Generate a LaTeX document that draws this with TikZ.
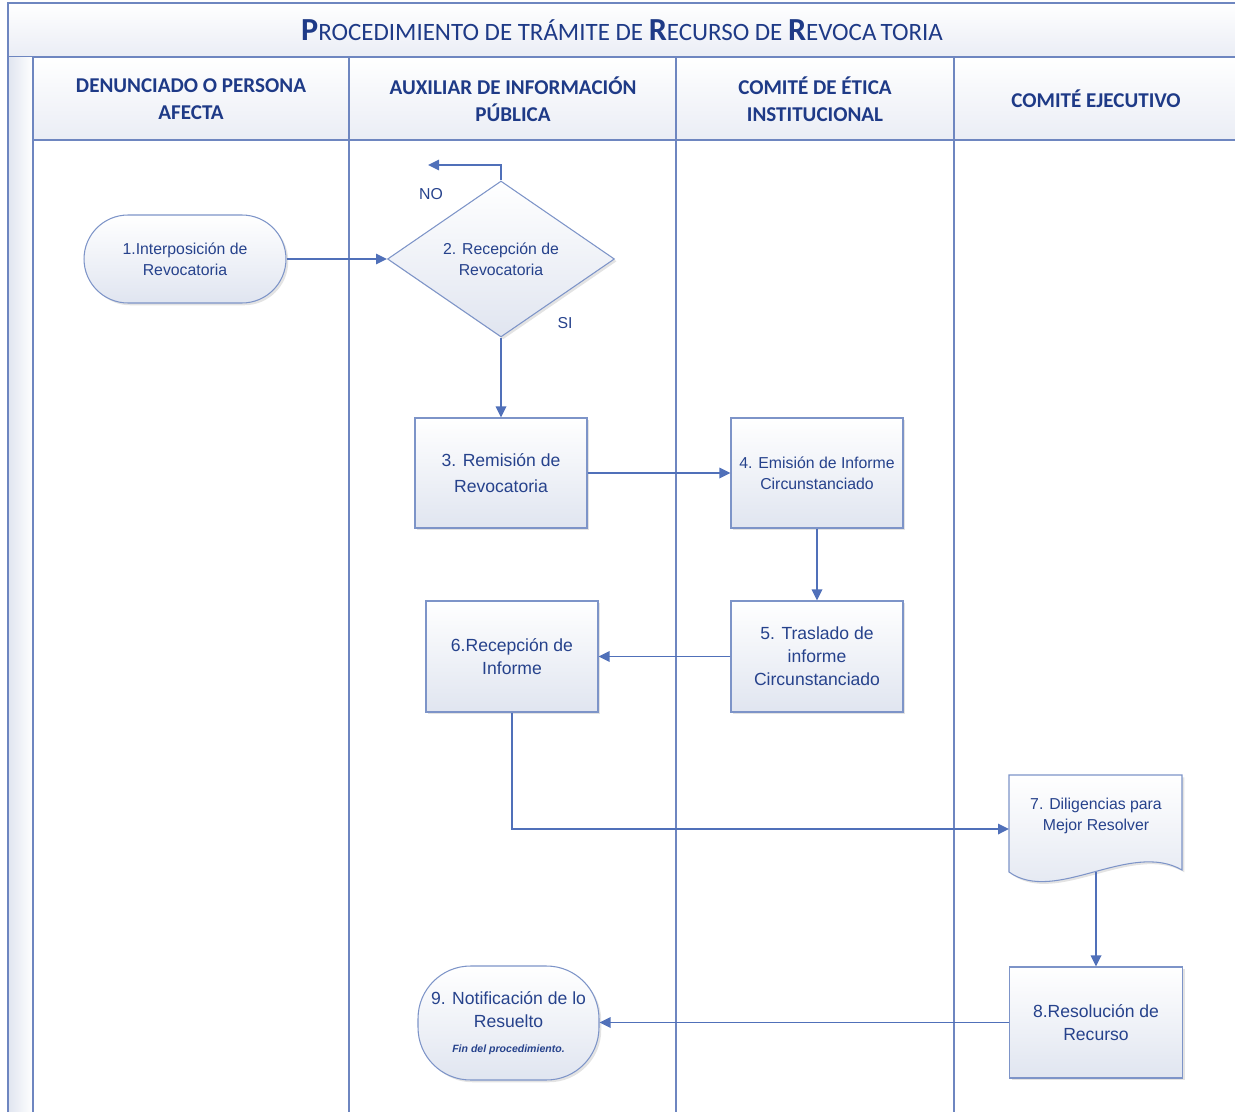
\documentclass[tikz,border=0pt]{standalone}
\usepackage{fontspec}
\setmainfont{Liberation Sans}
\newfontfamily\carlito{Carlito}
\usetikzlibrary{arrows.meta,shapes.geometric,shadows}
\definecolor{lane}{RGB}{110,134,192}
\definecolor{boxline}{RGB}{125,148,200}
\definecolor{conn}{RGB}{80,112,185}
\definecolor{hdr}{RGB}{30,58,135}
\definecolor{ntext}{RGB}{38,66,140}
\definecolor{fillb}{RGB}{224,229,240}
\definecolor{hdrb}{RGB}{234,237,245}
\tikzset{
  shad/.style={drop shadow={shadow xshift=1.3pt, shadow yshift=-1.3pt, opacity=0.22}},
  shape base/.style={draw=boxline, line width=0.6pt, top color=white, bottom color=fillb, text=ntext, align=center, inner sep=1pt, shad},
  procbox/.style={shape base, minimum width=3.44cm, minimum height=2.2cm},
  termbox/.style={shape base},
  decbox/.style={shape base, diamond, aspect=1.455, minimum width=4.54cm, minimum height=3.12cm, inner sep=0pt},
  small/.style={font=\fontsize{9}{12}\selectfont},
  big/.style={font=\fontsize{10}{13}\selectfont},
  hdrtext/.style={text=hdr, align=center, font=\carlito\bfseries\fontsize{12}{15.3}\selectfont},
  lbl/.style={text=ntext, font=\fontsize{9}{11}\selectfont},
  arr/.style={draw=conn, line width=1pt, -{Triangle[length=2.2mm,width=2.1mm]}},
  laneline/.style={draw=lane, line width=0.8pt}
}
\begin{document}
\begin{tikzpicture}[x=0.02cm,y=-0.02cm]
\useasboundingbox (0,0) rectangle (1235,1112);
\clip (0,0) rectangle (1235,1112);
% title band
\path[draw=lane, line width=1.3pt, top color=white, bottom color=hdrb] (8,3) rectangle (1250,57);
\node[text=hdr] (title) at (622,30) {\carlito{\fontsize{18.3}{20}\selectfont\bfseries P}{\fontsize{14.2}{16}\selectfont ROCEDIMIENTO DE TRÁMITE DE }{\fontsize{18.3}{20}\selectfont\bfseries R}{\fontsize{14.2}{16}\selectfont ECURSO DE }{\fontsize{18.3}{20}\selectfont\bfseries R}{\fontsize{14.2}{16}\selectfont EVOCA\,TORIA}};
% left strip
\path[left color=fillb, right color=white] (8,57) rectangle (33,1130);
\draw[draw=lane, line width=1.3pt] (8,57) -- (8,1130);
\draw[draw=lane, line width=1.3pt] (33,57) -- (33,1130);
% header row
\path[draw=lane, line width=0.8pt, top color=white, bottom color=hdrb] (33,57) rectangle (1250,140);
\draw[laneline] (349,57) -- (349,1130);
\draw[laneline] (676,57) -- (676,1130);
\draw[laneline] (954,57) -- (954,1130);
\node[hdrtext] (h1) at (191,99.5) {DENUNCIADO O PERSONA\\AFECTA};
\node[hdrtext] (h2) at (513,99.5) {AUXILIAR DE INFORMACIÓN\\PÚBLICA};
\node[hdrtext] (h3) at (815,99.5) {COMITÉ DE ÉTICA\\INSTITUCIONAL};
\node[hdrtext] (h4) at (1096,99) {COMITÉ EJECUTIVO};
% nodes
\node[termbox, small, minimum width=4.04cm, minimum height=1.76cm, rounded corners=0.88cm] (n1) at (185,259) {1.Interposición de\\Revocatoria};
\node[decbox, small] (n2) at (501,259) {2. Recepción de\\Revocatoria};
\node[procbox, big, font=\fontsize{10}{14.7}\selectfont] (n3) at (501,473) {3. Remisión de\\Revocatoria};
\node[procbox, small] (n4) at (817,473) {4. Emisión de Informe\\Circunstanciado};
\node[procbox, big, minimum height=2.22cm] (n5) at (817,656.5) {5. Traslado de\\informe\\Circunstanciado};
\node[procbox, big, minimum height=2.22cm] (n6) at (512,656.5) {6.Recepción de\\Informe};
% document shape 7
\coordinate (d7nw) at (1009,775);
\coordinate (d7ne) at (1182,775);
\coordinate (d7in) at (1009,829);
\coordinate (d7out) at (1096,872);
\path[draw=boxline, line width=0.6pt, top color=white, bottom color=fillb, shad]
  (d7nw) -- (d7ne) -- (1182,870) .. controls (1130,840) and (1055,905) .. (1009,872) -- cycle;
\node[small, text=ntext, align=center] (n7) at (1096,816) {7. Diligencias para\\Mejor Resolver};
\node[procbox, big, minimum width=3.46cm, minimum height=2.22cm] (n8) at (1096,1022.5) {8.Resolución de\\Recurso};
\node[termbox, big, minimum width=3.62cm, minimum height=2.28cm, rounded corners=1.05cm] (n9) at (508.5,1023) {9. Notificación de lo\\Resuelto\\[1pt]{\fontsize{6}{8}\selectfont\bfseries\itshape Fin del procedimiento.}};
% connectors
\coordinate (noend) at (428,165);
\draw[arr] (n1.east) -- (n2.west);
\draw[arr] (n2.north) |- (noend);
\node[lbl] (no) at (431,194) {NO};
\node[lbl] (si) at (565,323) {SI};
\draw[arr] (n2.south) -- (n3.north);
\draw[arr] (n3.east) -- (n4.west);
\draw[arr] (n4.south) -- (n5.north);
\draw[arr] (n5.west) -- (n6.east);
\draw[arr] (n6.south) |- (d7in);
\draw[arr] (d7out) -- (n8.north);
\draw[arr] (n8.west) -- (n8.west -| n9.east);
\end{tikzpicture}
\end{document}
